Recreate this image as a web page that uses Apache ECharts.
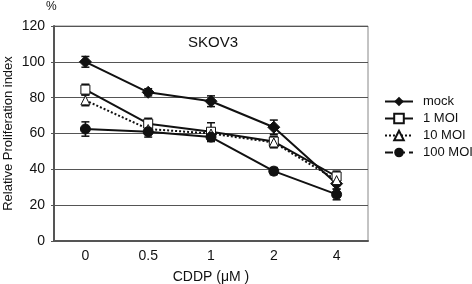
<!DOCTYPE html>
<html>
<head>
<meta charset="utf-8">
<script src="https://cdn.jsdelivr.net/npm/echarts@6/dist/echarts.min.js"></script>
<style>
  html, body { margin: 0; padding: 0; background: #fff; }
  #chart { width: 472px; height: 284px; }
</style>
</head>
<body>
<div id="chart"></div>
<script>
// CDDP doses (uM)
const categories = ['0', '0.5', '1', '2', '4'];
const yTicks = [0, 20, 40, 60, 80, 100, 120];

const mock = [100, 83, 78, 63.5, 32];
const moi1 = [84.5, 65.5, 61, 55.5, 36];
const moi10 = [78.5, 62.5, 60, 55, 34];
const moi100 = [62.5, 61, 58, 39, 26];

// +/- error
const mockErr = [3, 2, 3, 4, 3];
const moi1Err = [3, 3, 5, 3, 3];
const moi10Err = [3, 3, 3, 3, 3];
const moi100Err = [4, 3, 2.5, 2, 3];

const font = 'Liberation Sans, Arial, sans-serif';

function errData(vals, errs) {
  return vals.map((v, i) => [i, v - errs[i], v + errs[i]]);
}

function errSeries(vals, errs) {
  return {
    type: 'custom',
    z: 1,
    silent: true,
    renderItem: function (params, api) {
      const lo = api.coord([api.value(0), api.value(1)]);
      const hi = api.coord([api.value(0), api.value(2)]);
      const w = 4;
      const st = { stroke: '#111', lineWidth: 1.5 };
      return {
        type: 'group',
        children: [
          { type: 'line', shape: { x1: lo[0], y1: lo[1], x2: hi[0], y2: hi[1] }, style: st },
          { type: 'line', shape: { x1: lo[0] - w, y1: lo[1], x2: lo[0] + w, y2: lo[1] }, style: st },
          { type: 'line', shape: { x1: hi[0] - w, y1: hi[1], x2: hi[0] + w, y2: hi[1] }, style: st }
        ]
      };
    },
    data: errData(vals, errs)
  };
}

const myChart = echarts.init(document.getElementById('chart'));
const option = {
  animation: false,
  textStyle: { fontFamily: font },
  grid: {
    left: 54, right: 104, top: 26, bottom: 43,
    outerBoundsMode: 'none',
    show: true, borderColor: '#888', borderWidth: 1
  },
  legend: {
    orient: 'vertical',
    left: 379,
    top: 90,
    itemWidth: 28,
    itemHeight: 12,
    itemGap: 4,
    textStyle: { fontFamily: font, fontSize: 13, color: '#111', padding: [0, 0, 0, 5] },
    data: [
      { name: 'mock' },
      { name: '1 MOI' },
      { name: '10 MOI' },
      { name: '100 MOI', lineStyle: { type: 'dashed' } }
    ]
  },
  xAxis: {
    type: 'category',
    data: categories,
    boundaryGap: true,
    name: 'CDDP (μM )',
    nameLocation: 'middle',
    nameGap: 29,
    nameMoveOverlap: false,
    nameTextStyle: { fontFamily: font, fontSize: 14, color: '#111' },
    axisLine: { lineStyle: { color: '#555', width: 2 } },
    axisTick: { alignWithLabel: true, inside: true, length: 3, lineStyle: { color: '#555' } },
    axisLabel: { fontFamily: font, fontSize: 14, color: '#111', margin: 8 }
  },
  yAxis: {
    type: 'value',
    min: yTicks[0],
    max: yTicks[yTicks.length - 1],
    interval: 20,
    name: 'Relative Proliferation index',
    nameLocation: 'middle',
    nameGap: 39,
    nameMoveOverlap: false,
    nameTextStyle: { fontFamily: font, fontSize: 13, color: '#111' },
    axisLine: { show: true, lineStyle: { color: '#555', width: 2 } },
    axisTick: { show: true, length: 3, lineStyle: { color: '#555' } },
    axisLabel: { fontFamily: font, fontSize: 14, color: '#111', margin: 9 },
    splitLine: { lineStyle: { color: '#555', width: 1 } }
  },
  graphic: [
    { type: 'text', left: 46, top: 1, style: { text: '%', font: '12px ' + font, fill: '#111' } },
    { type: 'text', left: 188, top: 35, style: { text: 'SKOV3', font: '15px ' + font, fill: '#111' } }
  ],
  series: [
    errSeries(mock, mockErr),
    errSeries(moi1, moi1Err),
    errSeries(moi10, moi10Err),
    errSeries(moi100, moi100Err),
    {
      name: 'mock', type: 'line', data: mock, z: 3,
      symbol: 'diamond', symbolSize: 12,
      lineStyle: { color: '#111', width: 2 },
      itemStyle: { color: '#111', borderColor: '#111' }
    },
    {
      name: '1 MOI', type: 'line', data: moi1, z: 3,
      symbol: 'rect', symbolSize: 9,
      lineStyle: { color: '#111', width: 2 },
      itemStyle: { color: '#fff', borderColor: '#111', borderWidth: 1 }
    },
    {
      name: '10 MOI', type: 'line', data: moi10, z: 3,
      symbol: 'triangle', symbolSize: 9,
      lineStyle: { color: '#111', width: 2, type: 'dotted' },
      itemStyle: { color: '#fff', borderColor: '#111', borderWidth: 1 }
    },
    {
      name: '100 MOI', type: 'line', data: moi100, z: 3,
      symbol: 'circle', symbolSize: 10,
      lineStyle: { color: '#111', width: 2 },
      itemStyle: { color: '#111', borderColor: '#111' }
    }
  ]
};
myChart.setOption(option);
</script>
</body>
</html>
